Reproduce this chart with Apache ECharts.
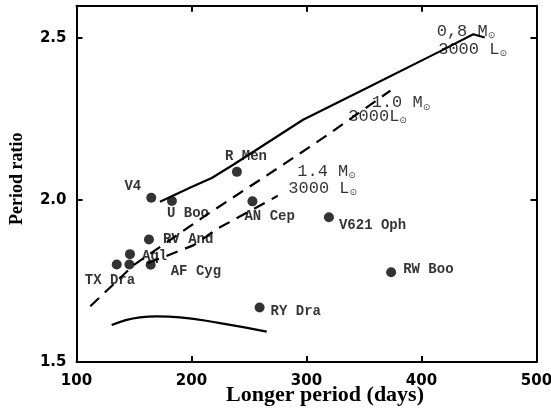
<!DOCTYPE html>
<html>
<head>
<meta charset="utf-8">
<script src="https://cdn.jsdelivr.net/npm/echarts@6/dist/echarts.min.js"></script>
<style>html,body{margin:0;padding:0;background:#fff}#c{width:551px;height:412px}</style>
</head>
<body>
<div id="c"></div>
<script>
// ---- data ----
var starNames = ['V4', 'U Boo', 'R Men', 'AN Cep', 'V621 Oph', 'RV And', 'Aql', 'TX Dra', '', 'AF Cyg', 'RW Boo', 'RY Dra'];
var starPeriods = [165, 183, 239.5, 253, 319.5, 163, 146.5, 135, 146, 164.5, 373.6, 259.2];
var starRatios = [2.007, 1.997, 2.087, 1.996, 1.947, 1.878, 1.833, 1.801, 1.801, 1.800, 1.777, 1.668];

var track08 = [[172.6, 1.995], [200, 2.04], [217.6, 2.068], [236.3, 2.109], [297, 2.248], [352, 2.345], [416, 2.459], [445, 2.512], [455, 2.502]];
var track10 = [[112, 1.672], [150, 1.80], [213, 1.954], [280, 2.11], [320, 2.205], [373, 2.338]];
var track14 = [[162, 1.805], [201.5, 1.86], [223.3, 1.913], [275, 2.013]];
var trackLow = [[130.6, 1.614], [155.2, 1.638], [169.7, 1.641], [190, 1.638], [224.8, 1.620], [265.4, 1.594]];

var trackLabels = [
  {x: 413.2, y: 2.520, main: '0,8 M'},
  {x: 414.5, y: 2.466, main: '3000 L'},
  {x: 356.7, y: 2.300, main: '1.0 M'},
  {x: 336.4, y: 2.258, main: '3000L'},
  {x: 292.0, y: 2.088, main: '1.4 M'},
  {x: 284.2, y: 2.037, main: '3000 L'}
];
var sunSymbol = '⊙';

var xTicks = [100, 200, 300, 400, 500];
var yTicks = [1.5, 2.0, 2.5];

// ---- layout (label offsets in px, kept separate from data) ----
var starLabelLayout = [
  {dx: -10, dy: -11, align: 'right'},
  {dx: -5, dy: 12, align: 'left'},
  {dx: -12, dy: -15, align: 'left'},
  {dx: -8, dy: 15, align: 'left'},
  {dx: 10, dy: 8, align: 'left'},
  {dx: 14, dy: 0, align: 'left'},
  {dx: 12, dy: 2, align: 'left'},
  {dx: -32, dy: 16, align: 'left'},
  {dx: 0, dy: 0, align: 'left'},
  {dx: 20, dy: 7, align: 'left'},
  {dx: 12, dy: -3, align: 'left'},
  {dx: 11, dy: 4, align: 'left'}
];

var starData = starNames.map(function (n, i) {
  var l = starLabelLayout[i];
  return {
    value: [starPeriods[i], starRatios[i]],
    name: n,
    label: {offset: [l.dx, l.dy], align: l.align}
  };
});

var annData = trackLabels.map(function (t) {
  return {value: [t.x, t.y], name: t.main};
});

var tickLabelFont = {fontFamily: 'DejaVu Sans', fontWeight: 'bold', fontSize: 15, color: '#000'};

var chart = echarts.init(document.getElementById('c'), null, {renderer: 'canvas'});
var axisLine = {show: true, lineStyle: {color: '#000', width: 2}};
var axisTick = {show: true, inside: true, length: 6, lineStyle: {color: '#000', width: 2}};

chart.setOption({
  animation: false,
  backgroundColor: '#fff',
  grid: {left: 76.5, right: 14.5, top: 5.7, bottom: 50, containLabel: false, outerBoundsMode: 'none'},
  xAxis: [{
    type: 'value', min: 100, max: 500, interval: 100, position: 'bottom',
    axisLine: axisLine, axisTick: axisTick, splitLine: {show: false},
    axisLabel: Object.assign({margin: 12, formatter: function (v) { return xTicks.indexOf(v) >= 0 ? String(v) : ''; }}, tickLabelFont),
    name: 'Longer period (days)', nameLocation: 'middle', nameGap: 22, nameMoveOverlap: false,
    nameTextStyle: {fontFamily: 'Liberation Serif', fontWeight: 'bold', fontSize: 22, color: '#000', padding: [0, 0, 0, 37]}
  }, {
    type: 'value', min: 100, max: 500, interval: 100, position: 'top',
    axisLine: axisLine, axisTick: axisTick, axisLabel: {show: false}, splitLine: {show: false}
  }],
  yAxis: [{
    type: 'value', min: 1.5, max: 2.6, interval: 0.5, position: 'left',
    axisLine: axisLine, axisTick: axisTick, splitLine: {show: false},
    axisLabel: Object.assign({margin: 10, formatter: function (v) {
      for (var i = 0; i < yTicks.length; i++) { if (Math.abs(yTicks[i] - v) < 1e-6) return yTicks[i].toFixed(1); }
      return '';
    }}, tickLabelFont),
    name: 'Period ratio', nameLocation: 'middle', nameGap: 50, nameMoveOverlap: false,
    nameTextStyle: {fontFamily: 'Liberation Serif', fontWeight: 'bold', fontSize: 18, color: '#000', padding: [0, 0, 0, 10]}
  }, {
    type: 'value', min: 1.5, max: 2.6, interval: 0.5, position: 'right',
    axisLine: axisLine, axisTick: axisTick, axisLabel: {show: false}, splitLine: {show: false}
  }],
  series: [
    {type: 'line', data: track08, showSymbol: false, symbol: 'none', lineStyle: {color: '#000', width: 2.2}, z: 2},
    {type: 'line', data: track10, showSymbol: false, symbol: 'none', lineStyle: {color: '#000', width: 2.2, type: [12, 8]}, z: 2},
    {type: 'line', data: track14, showSymbol: false, symbol: 'none', lineStyle: {color: '#000', width: 2.2, type: [12, 8]}, z: 2},
    {type: 'line', data: trackLow, showSymbol: false, symbol: 'none', smooth: true, lineStyle: {color: '#000', width: 2.2}, z: 2},
    {
      type: 'scatter', data: starData, symbol: 'circle', symbolSize: 10,
      itemStyle: {color: '#000'}, z: 3,
      label: {
        show: true, position: 'inside', verticalAlign: 'middle',
        formatter: '{b}', color: '#000',
        fontFamily: 'Liberation Mono', fontWeight: 'bold', fontSize: 14
      }
    },
    {
      type: 'scatter', data: annData, symbolSize: 0, z: 4, silent: true,
      label: {
        show: true, position: 'inside', align: 'left', verticalAlign: 'middle',
        formatter: function (p) { return '{n|' + p.name + '}{s|' + sunSymbol + '}'; },
        rich: {
          n: {fontFamily: 'Liberation Mono', fontSize: 17, color: '#000', lineHeight: 18, verticalAlign: 'middle'},
          s: {fontFamily: 'DejaVu Sans', fontSize: 9, color: '#000', lineHeight: 9, verticalAlign: 'bottom', padding: [12, 0, 0, 0]}
        }
      }
    }
  ]
});
</script>
</body>
</html>
